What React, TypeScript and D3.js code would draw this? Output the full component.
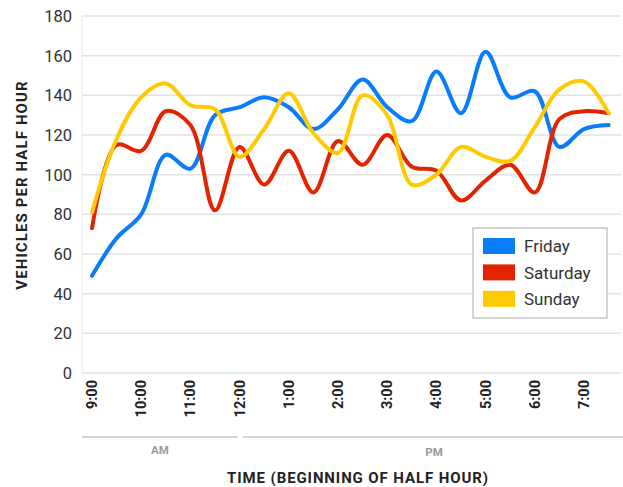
import React from "react";
import * as d3 from "d3";

const timeLabels = ["9:00","9:30","10:00","10:30","11:00","11:30","12:00","12:30","1:00","1:30","2:00","2:30","3:00","3:30","4:00","4:30","5:00","5:30","6:00","6:30","7:00","7:30"];
const hourTickLabels = ["9:00","10:00","11:00","12:00","1:00","2:00","3:00","4:00","5:00","6:00","7:00"];
const friday = [49,68,80,110,103,130,134,139,134,123,133,148,134,127,152,131,162,139,142,114,123,125];
const saturday = [73,115,112,132,125,82,114,95,112,91,117,105,120,104,102,87,97,105,91,128,132,131];
const sunday = [81,118,139,146,135,133,109,123,141,121,111,140,130,95,100,114,109,107,124,143,147,131];
const yTicks = [0,20,40,60,80,100,120,140,160,180];
const seriesNames = ["Friday","Saturday","Sunday"];
const seriesColors = ["#0a7cfa","#e22400","#ffcb00"];

export default function App() {
  const W = 623, H = 487;
  const x = d3.scalePoint<string>().domain(timeLabels).range([92, 608.6]);
  const y = d3.scaleLinear().domain([0, 180]).range([373, 16]);
  const line = d3.line<number>()
    .x((_, i) => x(timeLabels[i]) as number)
    .y((d) => y(d))
    .curve(d3.curveCatmullRom.alpha(0.5));
  const series = [friday, saturday, sunday];
  const font = "Roboto, 'DejaVu Sans', sans-serif";
  const plotLeft = 82, plotRight = 621;
  return (
    <svg width={W} height={H} style={{ position: "absolute", left: 0, top: 0, background: "#fff" }} fontFamily={font}>
      {/* grid */}
      <line x1={plotLeft} x2={plotLeft} y1={y(180)} y2={y(0)} stroke="#ececec" strokeWidth={1} />
      {yTicks.map((t) => (
        <g key={t}>
          <line x1={plotLeft} x2={plotRight} y1={y(t)} y2={y(t)} stroke="#e3e3e3" strokeWidth={1.5} />
          <text x={72} y={y(t)} dy="0.36em" textAnchor="end" fontSize={16.5} fill="#333">{t}</text>
        </g>
      ))}
      {/* lines */}
      {series.map((s, k) => (
        <path key={k} d={line(s) || ""} fill="none" stroke={seriesColors[k]} strokeWidth={4} strokeLinecap="round" strokeLinejoin="round" />
      ))}
      {/* x tick labels */}
      {hourTickLabels.map((lab) => {
        const px = x(lab) as number;
        return (
          <text key={lab} transform={`translate(${px + 5},380) rotate(-90)`} textAnchor="end" fontSize={14.5} fontWeight="bold" fill="#222">{lab}</text>
        );
      })}
      {/* AM/PM brackets */}
      <line x1={82} x2={237.5} y1={437} y2={437} stroke="#c4c4c4" strokeWidth={1.5} />
      <line x1={243} x2={623} y1={437} y2={437} stroke="#c4c4c4" strokeWidth={1.5} />
      <text x={160} y={454} textAnchor="middle" fontSize={11.5} fontWeight="bold" fill="#9a9a9a">AM</text>
      <text x={434} y={456} textAnchor="middle" fontSize={11.5} fontWeight="bold" fill="#9a9a9a">PM</text>
      {/* axis titles */}
      <text x={358} y={483} textAnchor="middle" fontSize={15} fontWeight="bold" fill="#222" letterSpacing={0.9}>TIME (BEGINNING OF HALF HOUR)</text>
      <text transform={`translate(27,185) rotate(-90)`} textAnchor="middle" fontSize={15} fontWeight="bold" fill="#222" letterSpacing={1.1}>VEHICLES PER HALF HOUR</text>
      {/* legend */}
      <rect x={473} y={228} width={134} height={90} fill="#fff" stroke="#aaa" strokeWidth={1} />
      {seriesNames.map((n, k) => (
        <g key={n}>
          <rect x={483} y={238 + k * 26.4} width={32} height={16} fill={seriesColors[k]} />
          <text x={524} y={246 + k * 26.4} dy="0.36em" fontSize={17} fill="#333">{n}</text>
        </g>
      ))}
    </svg>
  );
}
